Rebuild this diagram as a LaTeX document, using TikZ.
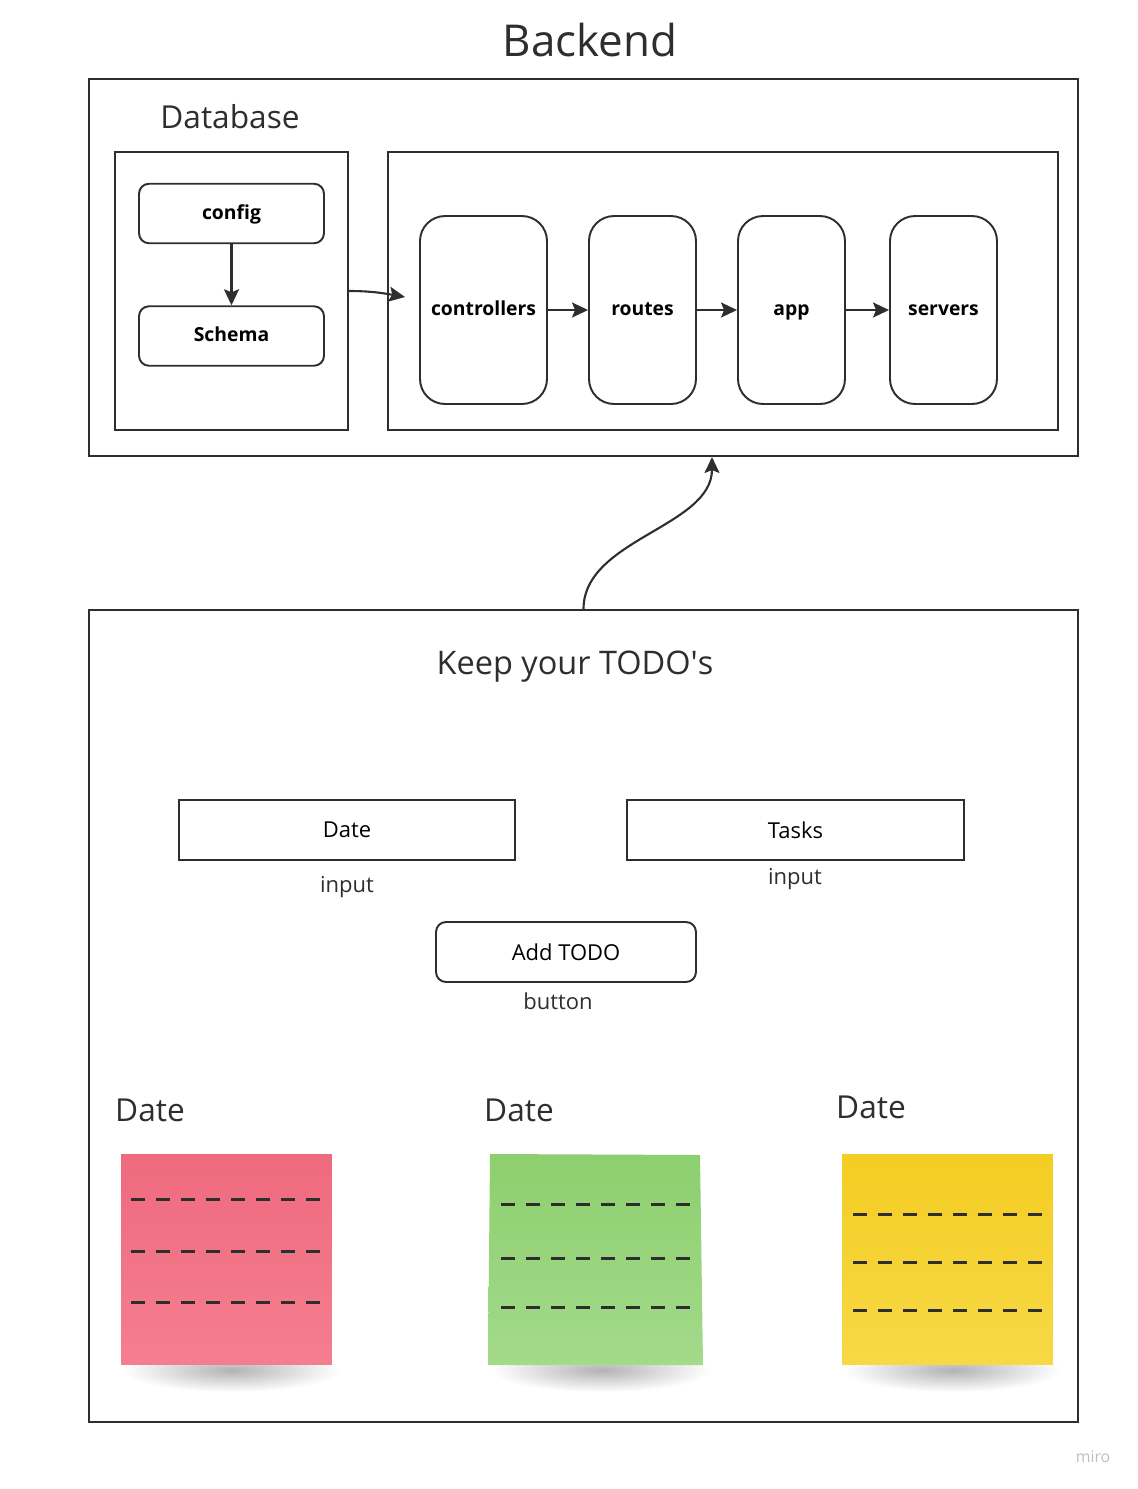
\documentclass[tikz,border=0pt]{standalone}
\usepackage{fontspec}
\setmainfont{Open Sans}
\usetikzlibrary{arrows.meta}

\definecolor{ink}{HTML}{2E2E2E}
\definecolor{pinktop}{HTML}{EF6A7E}
\definecolor{pinkbot}{HTML}{F47E8F}
\definecolor{greentop}{HTML}{8DCF6E}
\definecolor{greenbot}{HTML}{A3DA8B}
\definecolor{yellowtop}{HTML}{F4CD22}
\definecolor{yellowbot}{HTML}{F7D946}

\tikzset{
  frame/.style={draw=ink,line width=1.1pt,inner sep=0pt},
  step box/.style={frame,rounded corners=0.5cm,minimum width=2.14cm,minimum height=3.76cm,
    text height=1.6ex,text depth=.4ex,font=\fontsize{11}{13}\selectfont\bfseries},
  small box/.style={frame,rounded corners=0.2cm,minimum width=3.7cm,minimum height=1.19cm,
    text height=1.6ex,text depth=.4ex,font=\fontsize{11}{13}\selectfont\bfseries},
  input box/.style={frame,minimum width=6.73cm,minimum height=1.2cm,
    font=\fontsize{12.5}{15}\selectfont},
  big label/.style={font=\fontsize{18}{22}\selectfont,text=ink},
  small label/.style={font=\fontsize{12.5}{15}\selectfont,text=ink},
  note/.style={minimum width=4.22cm,minimum height=4.22cm,inner sep=0pt},
  lines/.style={ink,line width=1.7pt,dash pattern=on 0.28cm off 0.22cm},
}

\begin{document}
\begin{tikzpicture}[x=0.02cm,y=-0.02cm,>={Stealth[length=3.2mm,width=3mm,inset=0.6mm]}]
  \useasboundingbox (0,0) rectangle (1138,1489);

  % backend
  \node[font=\fontsize{25}{30}\selectfont,text=ink] (title) at (590,40) {Backend};
  \node[frame,minimum width=19.78cm,minimum height=7.54cm] (backend) at (583.5,267.5) {};
  \node[big label] (dblabel) at (230,117) {Database};

  \node[frame,minimum width=4.66cm,minimum height=5.56cm] (dbleft)  at (231.5,291) {};
  \node[frame,minimum width=13.4cm,minimum height=5.56cm] (dbright) at (723,291) {};

  \begin{scope}[every node/.style={small box}]
    \node (config) at (231.5,213.5) {config};
    \node (schema) at (231.5,336)   {Schema};
  \end{scope}

  \begin{scope}[every node/.style={step box}]
    \node[minimum width=2.54cm] (controllers) at (483.5,310) {controllers};
    \node (routes)  at (642.5,310) {routes};
    \node (app)     at (791.5,310) {app};
    \node (servers) at (943.5,310) {servers};
  \end{scope}

  \coordinate (dbin) at (405,297);
  \coordinate (bkin) at (712,457);

  % todo page
  \node[frame,minimum width=19.78cm,minimum height=16.24cm] (todo) at (583.5,1016) {};
  \node[big label,font=\fontsize{18.5}{22}\selectfont] (todolabel) at (575,667)
    {Keep your TODO\textquotesingle s};

  \node[input box] (date)  at (347,830)   {Date};
  \node[input box] (tasks) at (795.5,830) {Tasks};
  \node[small label] (dateinput)  at (347,887) {input};
  \node[small label] (tasksinput) at (795,879) {input};

  \node[input box,rounded corners=0.2cm,minimum width=5.2cm] (addtodo) at (566,952) {Add TODO};
  \node[small label] (addlabel) at (558,1001) {button};

  \node[big label] (pinkdate)   at (150,1110) {Date};
  \node[big label] (greendate)  at (519,1110) {Date};
  \node[big label] (yellowdate) at (871,1107) {Date};

  % notes
  \foreach \x/\w in {226.5/211,596/213,947.5/211}
    \shade[inner color=black!30,outer color=white]
      (\x-\w/2+2,1348) rectangle (\x+\w/2+8,1392);

  \node[note,top color=pinktop,bottom color=pinkbot] (pinknote) at (226.5,1259.5) {};
  \shade[top color=greentop,bottom color=greenbot]
    (490,1154) -- (700,1155) -- (703,1365) -- (488,1365) -- cycle;
  \node[note,minimum width=4.26cm] (greennote) at (596,1259.5) {};
  \node[note,top color=yellowtop,bottom color=yellowbot] (yellownote) at (947.5,1259.5) {};

  \foreach \xa/\xb/\y in {131/321/1199,131/321/1251,131/321/1302,
                          501/691/1204,501/691/1258,501/691/1307,
                          853/1043/1214,853/1043/1262,853/1043/1310}
    \draw[lines] (\xa,\y) -- (\xb,\y);

  \node[text=black!25,font=\fontsize{9}{11}\selectfont] (miro) at (1093,1457) {miro};

  % connectors
  \begin{scope}[every edge/.style={draw=ink,line width=1.2pt,->}]
    \path (config) edge (schema);
    \path (dbleft.east) edge[out=0,in=170] (dbin);
    \path (controllers) edge (routes);
    \path (routes)      edge (app);
    \path (app)         edge (servers);
    \path (todo.north) edge[out=90,in=-90,looseness=0.9] (bkin);
  \end{scope}

\end{tikzpicture}
\end{document}
